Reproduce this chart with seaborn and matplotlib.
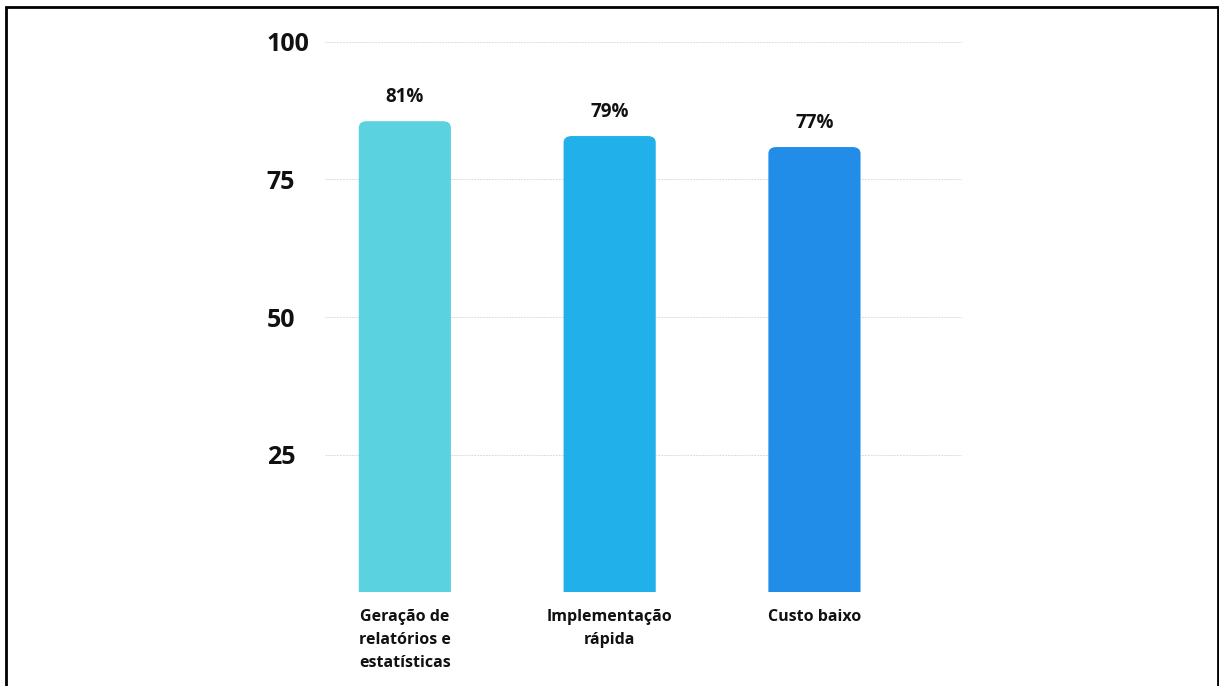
import numpy as np
import pandas as pd
import seaborn as sns
import matplotlib.pyplot as plt
from matplotlib.patches import Rectangle, FancyBboxPatch

categories = ["Geração de\nrelatórios e\nestatísticas", "Implementação\nrápida", "Custo baixo"]
bar_heights = [85.6, 82.9, 80.9]
bar_labels = ["81%", "79%", "77%"]
bar_colors = ["#5bd2e0", "#22b0ea", "#228de8"]
y_ticks = [25, 50, 75, 100]

sns.set_theme(style="white")
plt.rcParams['font.family'] = ['Open Sans', 'DejaVu Sans']

df = pd.DataFrame({"cat": categories, "val": bar_heights})

fig = plt.figure(figsize=(12.19, 6.86), dpi=100)
ax = fig.add_axes([0.2666, 0.137, 0.5225, 0.8018])

sns.barplot(data=df, x="cat", y="val", hue="cat", palette=bar_colors,
            width=0.45, legend=False, ax=ax, saturation=1, zorder=3)

# rounded top corners
for p in list(ax.patches):
    x, y = p.get_x(), p.get_y()
    w, h = p.get_width(), p.get_height()
    fc = p.get_facecolor()
    p.set_visible(False)
    ax.add_patch(FancyBboxPatch((x, y - 3), w, h + 3,
                                boxstyle="round,pad=0,rounding_size=0.04",
                                mutation_aspect=30, fc=fc, ec="none", zorder=3))

for i, (h, lab) in enumerate(zip(bar_heights, bar_labels)):
    ax.annotate(lab, (i, h), xytext=(0, 10), textcoords="offset points",
                ha="center", va="bottom", fontsize=13.5, fontweight="bold", color="#111111")

ax.set_ylim(0, 100)
ax.set_xlim(-0.39, 2.72)
ax.set_yticks(y_ticks)
ax.set_yticklabels([str(t) for t in y_ticks], fontsize=18, fontweight="bold", color="#111111")
for lab in ax.get_yticklabels():
    lab.set_ha("left")
ax.set_xticks(range(len(categories)))
ax.set_xticklabels(categories, fontsize=11.5, fontweight="bold", color="#111111",
                   va="top", linespacing=1.6)
ax.tick_params(axis="y", length=0, pad=42)
ax.tick_params(axis="x", length=0, pad=12)
ax.set_xlabel("")
ax.set_ylabel("")

for t in [0] + y_ticks:
    ax.axhline(t, color="#dcdcdc", lw=0.7, ls=(0, (2, 1)), zorder=1)
for s in ax.spines.values():
    s.set_visible(False)

# outer frame
fig.patches.append(Rectangle((6 / 1219, -0.05), (1218 - 6) / 1219, 1.05 - 7.5 / 686,
                             transform=fig.transFigure, fill=False, ec="black", lw=2))

fig.savefig("out.png", dpi=100)
